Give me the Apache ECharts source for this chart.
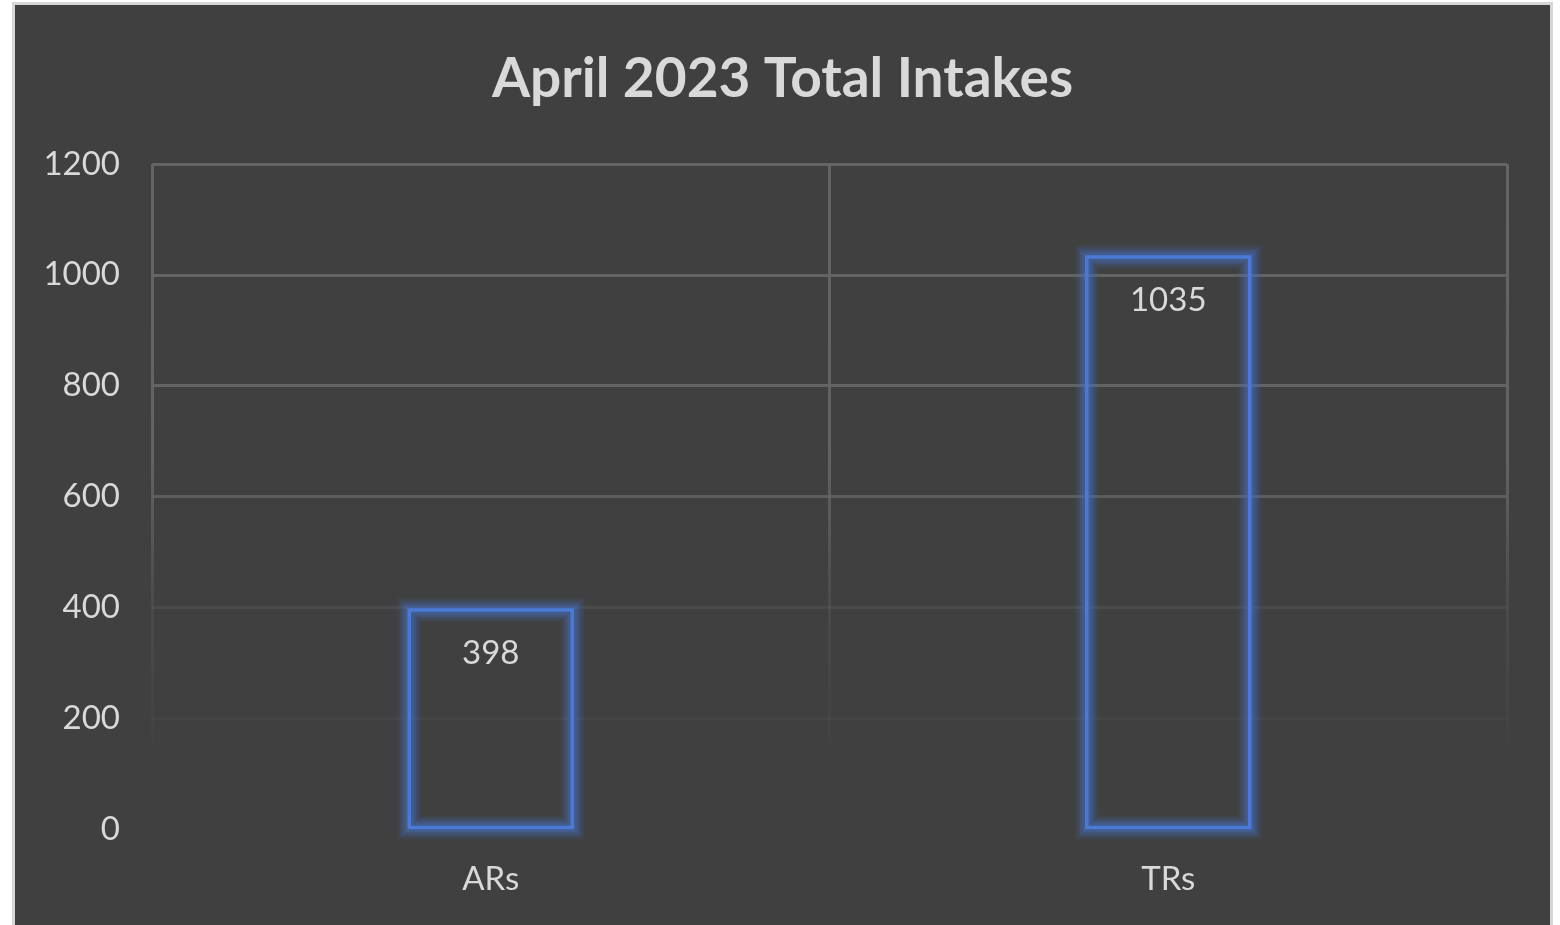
<!DOCTYPE html>
<html>
<head>
<meta charset="utf-8">
<script src="https://cdn.jsdelivr.net/npm/echarts@6/dist/echarts.min.js"></script>
<style>
  html, body { margin: 0; padding: 0; background: #ffffff; width: 1560px; height: 925px; overflow: hidden; }
  #frame { position: absolute; left: 12px; top: 2px; width: 1535px; height: 930px; border: 3px solid #d6d6d6; background: #404040; }
  #chart { width: 1535px; height: 930px; }
</style>
</head>
<body>
<div id="frame"><div id="chart"></div></div>
<script>
const titleText = 'April 2023 Total Intakes';
const categories = ['ARs', 'TRs'];
const intakes = [398, 1035];
const yMin = 0, yMax = 1200, yStep = 200;

const chart = echarts.init(document.getElementById('chart'), null, { renderer: 'canvas' });
const FONT = 'Lato, "Open Sans", sans-serif';
const gridTop = 159, gridHeight = 665;
const BAR_W = 166;
function fadeGrad() {
  return new echarts.graphic.LinearGradient(0, gridTop, 0, gridTop + gridHeight, [
    { offset: 0, color: 'rgba(100,100,100,1)' },
    { offset: 0.45, color: 'rgba(100,100,100,0.95)' },
    { offset: 0.67, color: 'rgba(100,100,100,0.28)' },
    { offset: 0.84, color: 'rgba(100,100,100,0.1)' },
    { offset: 0.89, color: 'rgba(100,100,100,0)' },
    { offset: 1, color: 'rgba(100,100,100,0)' }
  ], true);
}
function renderGlowBar(params, api) {
  const top = api.coord([api.value(0), api.value(1)]);
  const base = api.coord([api.value(0), 0]);
  const x = top[0] - BAR_W / 2 + 1.5, y = top[1] + 1.5;
  const w = BAR_W - 3, h = base[1] - top[1] - 3;
  const layers = [
    [24, 'rgba(68,114,196,0.10)'],
    [19, 'rgba(68,114,196,0.16)'],
    [14, 'rgba(68,114,196,0.22)'],
    [9, 'rgba(68,114,196,0.3)'],
    [3.5, '#4a7ad6']
  ];
  return {
    type: 'group',
    children: layers.map(([lw, c]) => ({
      type: 'rect',
      shape: { x, y, width: w, height: h },
      style: { fill: null, stroke: c, lineWidth: lw }
    }))
  };
}
chart.setOption({
  backgroundColor: '#404040',
  animation: false,
  title: {
    text: titleText,
    left: 'center',
    top: 42,
    textStyle: { color: '#d9d9d9', fontFamily: FONT, fontWeight: 'bold', fontSize: 55 }
  },
  grid: { left: 137, top: gridTop, width: 1355, height: gridHeight, containLabel: false },
  xAxis: {
    type: 'category',
    data: categories,
    axisLine: { show: false },
    axisTick: { show: false },
    axisLabel: { color: '#d9d9d9', fontFamily: FONT, fontSize: 33, margin: 34 },
    splitLine: { show: true, interval: 0, lineStyle: { color: fadeGrad(), width: 3 } }
  },
  yAxis: {
    type: 'value',
    min: yMin, max: yMax, interval: yStep,
    axisLine: { show: false },
    axisTick: { show: false },
    axisLabel: { color: '#d9d9d9', fontFamily: FONT, fontSize: 33, margin: 32, formatter: v => String(v) },
    splitLine: { show: true, lineStyle: { color: fadeGrad(), width: 3 } }
  },
  series: [{
    type: 'custom',
    data: intakes.map((v, i) => [i, v]),
    renderItem: renderGlowBar,
    silent: true,
    z: 1
  }, {
    type: 'bar',
    data: intakes,
    barWidth: BAR_W,
    z: 2,
    itemStyle: { color: 'rgba(0,0,0,0)' },
    label: {
      show: true,
      position: 'insideTop',
      distance: 28,
      color: '#d9d9d9',
      fontFamily: FONT,
      fontSize: 33
    }
  }]
});
</script>
</body>
</html>
